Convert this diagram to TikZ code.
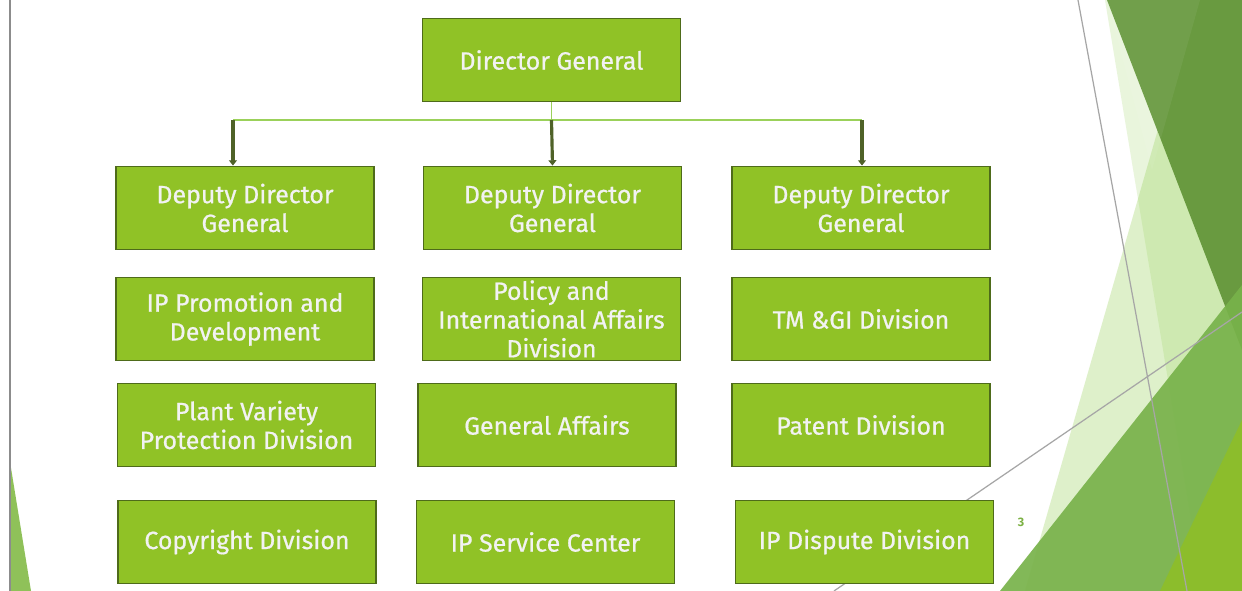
\documentclass[tikz,border=0pt]{standalone}
\usepackage{fontspec}
\setmainfont{Fira Sans}
\newfontfamily\boitefont[FakeBold=0.7]{Fira Sans}
\usetikzlibrary{arrows.meta}
\definecolor{vertboite}{HTML}{90C226}
\definecolor{bordboite}{HTML}{4E6B1A}
\definecolor{vertclair}{HTML}{9BD15A}
\definecolor{vertfonce}{HTML}{4F6228}
\definecolor{fondfonce}{HTML}{699A40}
\definecolor{fondmoyen}{HTML}{78B24A}
\definecolor{fondvif}{HTML}{8DBE2A}
\definecolor{fondpale}{HTML}{92D050}
\tikzset{
  boite/.style={draw=bordboite, line width=1.1pt, fill=vertboite, text=white!95!black,
    minimum width=5.16cm, minimum height=1.66cm, inner sep=0pt, align=center,
    font=\boitefont\fontsize{14.2}{16.4}\selectfont},
  clair/.style={draw=vertclair, line width=1.1pt},
  fonce/.style={draw=vertfonce, line width=1.8pt, -{Triangle[length=3pt,width=4.5pt]}},
  trait/.style={draw=black!35, line width=0.7pt}
}
\begin{document}
\begin{tikzpicture}[x=0.02cm,y=-0.02cm]
    \useasboundingbox (0,0) rectangle (1242,591);
    \fill[white] (0,0) rectangle (1242,591);
    %fond a droite
    \fill[fondpale, opacity=0.2] (1105,0) -- (1203,591) -- (1242,591) -- (1242,0) -- cycle;
    \fill[fondpale, opacity=0.3] (1025,591) -- (1178,60) -- (1242,200) -- (1242,591) -- cycle;
    \fill[fondfonce] (1107,0) -- (1242,0) -- (1242,350) -- cycle;
    \fill[white, opacity=0.06] (1107,0) -- (1200,0) -- (1152,170) -- cycle;
    \fill[fondmoyen, opacity=0.92] (1000,591) -- (1242,285) -- (1242,591) -- cycle;
    \fill[fondvif, opacity=0.95] (1160,591) -- (1242,420) -- (1242,591) -- cycle;
    \draw[trait] (1078,0) -- (1187,591);
    \draw[trait] (834,591) -- (1242,312);
    %bord gauche
    \fill[fondpale!90!black, opacity=0.9] (11,468) -- (31,591) -- (11,591) -- cycle;
    \draw[black!45, line width=1.1pt] (10,0) -- (10,591);
    %numero
    \node[text=fondpale!85!black, font=\fontsize{7}{8}\selectfont\bfseries] (num) at (1021,522) {3};
    %boites
    \node[boite] (dg) at (551.5,60) {Director General};
    \node[boite] (ddga) at (245,208) {Deputy Director\\General};
    \node[boite] (ddgb) at (552.5,208) {Deputy Director\\General};
    \node[boite] (ddgc) at (861,208) {Deputy Director\\General};
    \node[boite] (promo) at (245,319) {IP Promotion and\\Development};
    \node[boite] (policy) at (551.5,319) {Policy and\\International Affairs\\Division};
    \node[boite] (tmgi) at (861,319) {TM \&GI Division};
    \node[boite] (plant) at (246.5,425) {Plant Variety\\Protection Division};
    \node[boite] (affairs) at (547,425) {General Affairs};
    \node[boite] (patent) at (861,425) {Patent Division};
    \node[boite] (copy) at (247,542) {Copyright Division};
    \node[boite] (service) at (545.5,542) {IP Service Center};
    \node[boite] (dispute) at (864.5,542) {IP Dispute Division};
    %liaisons
    \coordinate (barre) at (551.5,120);
    \coordinate (ga) at (233,120);
    \coordinate (gc) at (862,120);
    \draw[clair] (dg.south) -- (barre);
    \draw[clair] (ga) -- (gc);
    \draw[fonce] (ga) -- (ga |- ddga.north);
    \draw[fonce] (barre) -- (ddgb.north);
    \draw[fonce] (gc) -- (gc |- ddgc.north);
  \end{tikzpicture}
\end{document}
